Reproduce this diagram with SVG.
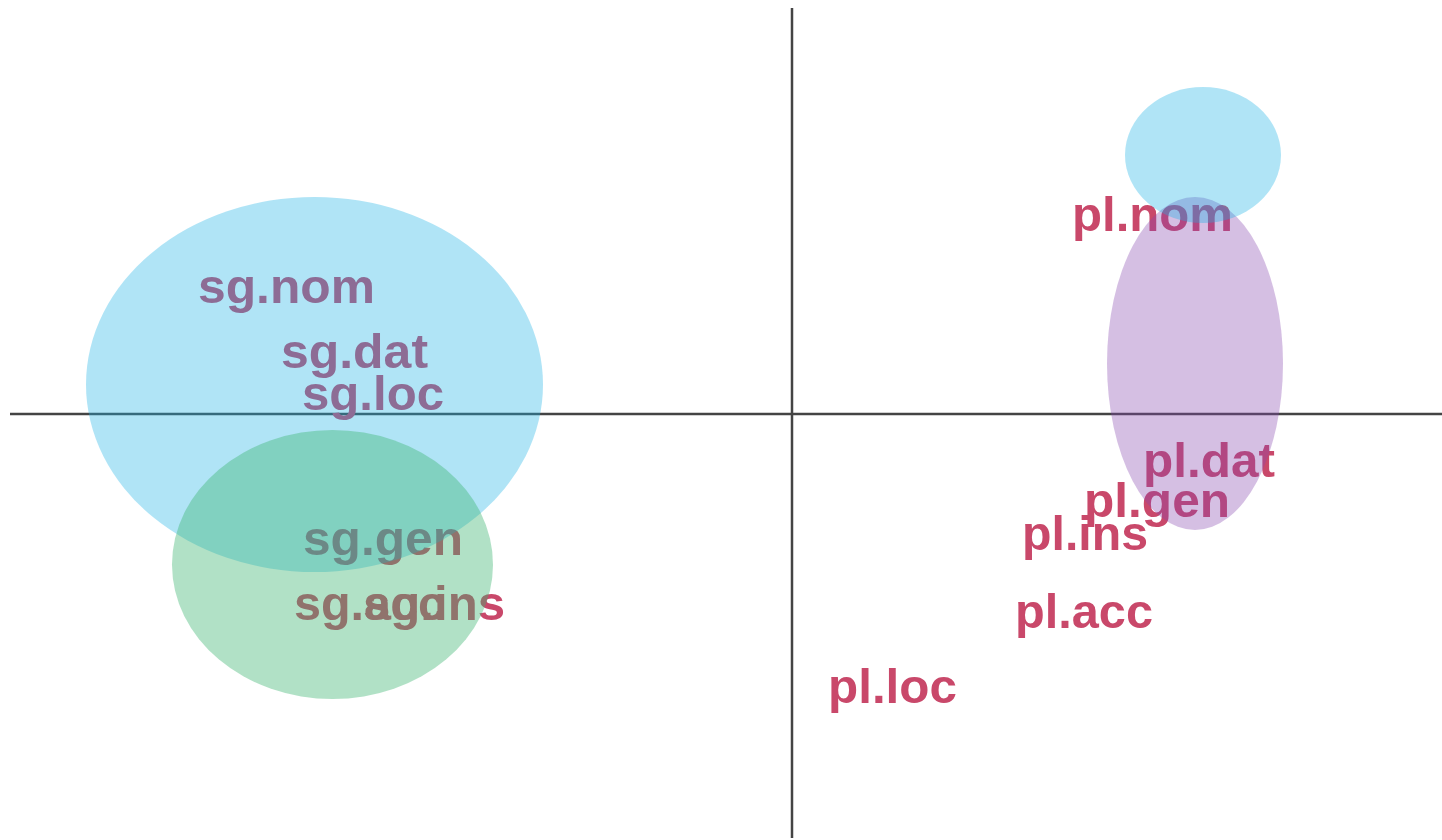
<svg xmlns="http://www.w3.org/2000/svg" width="1442" height="840" viewBox="0 0 1442 840">
<style>
.lbl{font-family:"Liberation Sans",Arial,sans-serif;font-weight:bold;font-size:49px;fill:#c9486a;}
.axis{stroke:#444;stroke-width:2.5;fill:none;}
.blue{fill:#1db2e5;fill-opacity:0.35;}
.green{fill:#3cb371;fill-opacity:0.4;}
.purple{fill:#8748af;fill-opacity:0.35;}
</style>
<rect width="1442" height="840" fill="#fff"/>
<g id="connectors">
<line class="axis" x1="10" y1="414" x2="1442" y2="414"/>
<line class="axis" x1="792" y1="8" x2="792" y2="838"/>
</g>
<g id="sg.nom"><text class="lbl" x="198" y="303" textLength="177" lengthAdjust="spacingAndGlyphs">sg.nom</text></g>
<g id="sg.dat"><text class="lbl" x="281" y="368" textLength="147" lengthAdjust="spacingAndGlyphs">sg.dat</text></g>
<g id="sg.loc"><text class="lbl" x="302" y="410" textLength="142" lengthAdjust="spacingAndGlyphs">sg.loc</text></g>
<g id="sg.gen"><text class="lbl" x="303" y="555" textLength="160" lengthAdjust="spacingAndGlyphs">sg.gen</text></g>
<g id="sg.acc"><text class="lbl" x="294" y="620" textLength="151" lengthAdjust="spacingAndGlyphs">sg.acc</text></g>
<g id="sg.ins"><text class="lbl" x="363" y="620" textLength="142" lengthAdjust="spacingAndGlyphs">sg.ins</text></g>
<g id="pl.nom"><text class="lbl" x="1072" y="231" textLength="161" lengthAdjust="spacingAndGlyphs">pl.nom</text></g>
<g id="pl.dat"><text class="lbl" x="1143" y="477" textLength="132" lengthAdjust="spacingAndGlyphs">pl.dat</text></g>
<g id="pl.gen"><text class="lbl" x="1084" y="517" textLength="146" lengthAdjust="spacingAndGlyphs">pl.gen</text></g>
<g id="pl.ins"><text class="lbl" x="1022" y="550" textLength="126" lengthAdjust="spacingAndGlyphs">pl.ins</text></g>
<g id="pl.acc"><text class="lbl" x="1015" y="628" textLength="138" lengthAdjust="spacingAndGlyphs">pl.acc</text></g>
<g id="pl.loc"><text class="lbl" x="828" y="703" textLength="129" lengthAdjust="spacingAndGlyphs">pl.loc</text></g>
<g id="clusters">
<ellipse class="blue" cx="314.5" cy="384.5" rx="228.5" ry="187.5"/>
<ellipse class="green" cx="332.5" cy="564.5" rx="160.5" ry="134.5"/>
<ellipse class="purple" cx="1195" cy="363.5" rx="88" ry="166.5"/>
<ellipse class="blue" cx="1203" cy="155" rx="78" ry="68"/>
</g>
</svg>
